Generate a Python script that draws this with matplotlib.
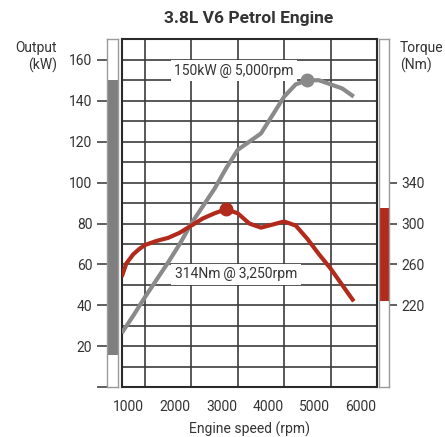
import matplotlib
matplotlib.use("Agg")
import matplotlib.pyplot as plt
import matplotlib.transforms as mtransforms

plt.rcParams['font.family'] = ['Roboto', 'DejaVu Sans']

# ---- data ----
rpm = [1000, 1250, 1500, 1750, 2000, 2250, 2500, 2750, 3000, 3250, 3500, 3750,
       4000, 4250, 4500, 4750, 5000, 5250, 5500, 5750, 6000]
power_kw = [26.5, 35, 44, 52.5, 61, 70, 80, 88.5, 97, 107, 116, 120,
            124, 133, 142, 148, 150, 150, 148, 146, 142]
torque_rpm = [1000, 1100, 1250, 1375, 1500, 1750, 2000, 2250, 2500, 2750, 3000,
              3250, 3500, 3750, 4000, 4250, 4500, 4750, 5000, 5250, 5500, 5750, 6000]
torque_nm = [248, 261, 270, 275, 279, 283, 286, 291, 298, 305, 310,
             314, 310, 300, 296, 299, 302, 298, 285, 270, 256, 240, 224]
peak_power = (5000, 150)
peak_torque = (3250, 314)
power_range = (16, 150)
torque_range = (224, 315)
x_ticks = [1000, 2000, 3000, 4000, 5000, 6000]
kw_ticks = [0, 20, 40, 60, 80, 100, 120, 140, 160]
nm_ticks = [220, 260, 300, 340]
power_label = "150kW\u2009@\u20095,000rpm"
torque_label = "314Nm\u2009@\u20093,250rpm"

GRAY = '#8a8a8a'
RED = '#b22a1c'
GRID = '#3c3c3c'
TXT = '#333333'

W, H = 445, 437
fig = plt.figure(figsize=(W / 100, H / 100), dpi=100)


def rect(x0, y0, x1, y1):
    return [x0 / W, 1 - y1 / H, (x1 - x0) / W, (y1 - y0) / H]


ax = fig.add_axes(rect(121.7, 39.3, 377, 387.3))
ax.set_xlim(1000, 6500)
ax.set_ylim(0, 170)
ax.set_xticks(range(1000, 6501, 500), minor=True)
ax.set_yticks(range(0, 171, 10), minor=True)
ax.grid(which='minor', color=GRID, lw=1.2, zorder=0)
ax.set_axisbelow(True)
for s in ax.spines.values():
    s.set_color('#2a2a2a')
    s.set_linewidth(1.5)
ax.set_yticks([])
ax.set_xticks(x_ticks)
ax.set_xticklabels([str(v) for v in x_ticks])
ax.tick_params(axis='x', which='major', length=0, pad=9.5, labelsize=10, labelcolor=TXT)
ax.tick_params(which='minor', length=0)
offset = mtransforms.ScaledTranslation(7 / 100, 0, fig.dpi_scale_trans)
for lab in ax.get_xticklabels():
    lab.set_transform(lab.get_transform() + offset)
ax.set_xlabel("Engine speed (rpm)", fontsize=10, color=TXT, labelpad=5)

ax.plot(rpm, power_kw, color=GRAY, lw=3, solid_capstyle='butt', zorder=3)
ax.plot([peak_power[0]], [peak_power[1]], 'o', color=GRAY, ms=9, zorder=4)

ax2 = ax.twinx()
ax2.set_ylim(140, 480)
ax2.set_yticks([])
for s in ax2.spines.values():
    s.set_visible(False)
ax2.plot(torque_rpm, torque_nm, color=RED, lw=3, solid_capstyle='butt', zorder=3)
ax2.plot([peak_torque[0]], [peak_torque[1]], 'o', color=RED, ms=9, zorder=4)

bbox = dict(facecolor='white', edgecolor='none', pad=2.5)
ax2.text(3420, 154.7, power_label, transform=ax.transData, ha='center', va='center',
         fontsize=10, color=TXT, bbox=bbox, zorder=5)
ax2.text(3460, 55.3, torque_label, transform=ax.transData, ha='center', va='center',
         fontsize=10, color=TXT, bbox=bbox, zorder=5)

# left bar (power range)
bax = fig.add_axes(rect(107.3, 39.3, 117.7, 387.3))
bax.set_ylim(0, 170)
bax.set_xlim(0, 1)
bax.axhspan(power_range[0], power_range[1], color='#7f7f7f', lw=0)
for s in bax.spines.values():
    s.set_color('#9a9a9a')
    s.set_linewidth(1)
bax.set_xticks([])
bax.set_yticks(kw_ticks)
bax.set_yticklabels([''] + [str(v) for v in kw_ticks[1:]])
bax.tick_params(axis='y', length=7.2, width=1.2, color='#444444', pad=3.6,
                labelsize=10, labelcolor=TXT)

# right bar (torque range)
rax = fig.add_axes(rect(379.3, 39.3, 389.3, 387.3))
rax.set_ylim(140, 480)
rax.set_xlim(0, 1)
rax.axhspan(torque_range[0], torque_range[1], color=RED, lw=0)
for s in rax.spines.values():
    s.set_color('#9a9a9a')
    s.set_linewidth(1)
rax.set_xticks([])
rax.yaxis.tick_right()
rax.set_yticks(nm_ticks)
rax.set_yticklabels([str(v) for v in nm_ticks])
rax.tick_params(axis='y', length=6.1, width=1.2, color='#444444', pad=2.9,
                labelsize=10, labelcolor=TXT)

fig.text(57 / W, 1 - 48 / H, "Output", ha='right', va='center', fontsize=10, color=TXT)
fig.text(57 / W, 1 - 65 / H, "(kW)", ha='right', va='center', fontsize=10, color=TXT)
fig.text(400 / W, 1 - 48 / H, "Torque", ha='left', va='center', fontsize=10, color=TXT)
fig.text(400 / W, 1 - 65 / H, "(Nm)", ha='left', va='center', fontsize=10, color=TXT)
fig.text(249 / W, 1 - 19 / H, "3.8L V6 Petrol Engine", ha='center', va='center',
         fontsize=12.5, fontweight='bold', color=TXT)

fig.savefig("out.png", dpi=100)
